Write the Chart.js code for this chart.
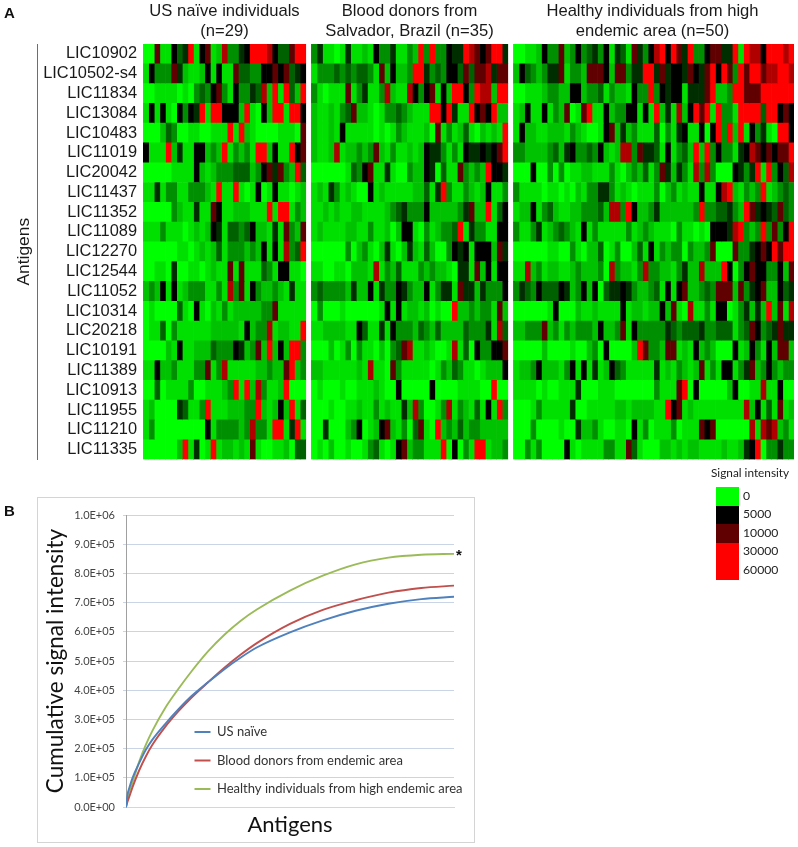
<!DOCTYPE html>
<html><head><meta charset="utf-8">
<script src="https://cdn.jsdelivr.net/npm/chart.js@4"></script>
<style>
html,body{margin:0;padding:0;background:#fff;width:798px;height:847px;overflow:hidden}
#page{position:relative;width:798px;height:847px;filter:blur(.45px)}
canvas{position:absolute;display:block}
.t{position:absolute;white-space:nowrap;font-family:"Liberation Sans",Arial,sans-serif;font-size:16.6px;line-height:20px;color:#1a1a1a;text-align:center;transform:translateX(-50%)}
.p{position:absolute;font-family:"Liberation Sans",Arial,sans-serif;font-weight:bold;font-size:15px;line-height:16px;color:#111}
.l{position:absolute;font-family:Lato,sans-serif;font-size:12.5px;line-height:16px;color:#222;white-space:nowrap}
#rule{position:absolute;left:36.6px;top:44px;width:1.2px;height:416px;background:#6e6e6e}
#frame{position:absolute;left:37px;top:497px;width:436px;height:344px;border:1.5px solid #d4d4d4}
</style></head><body><div id="page">
<div class="p" style="left:4px;top:5px">A</div>
<div class="t" style="left:224.5px;top:1px">US naïve individuals<br>(n=29)</div>
<div class="t" style="left:409.5px;top:1px">Blood donors from<br>Salvador, Brazil (n=35)</div>
<div class="t" style="left:652.5px;top:1px">Healthy individuals from high<br>endemic area (n=50)</div>
<div id="rule"></div>
<canvas id="heat" width="798" height="476" style="left:0;top:0"></canvas>
<div class="p" style="left:4px;top:503px">B</div>
<div id="legendBox"></div>
<div id="frame"></div>
<canvas id="curves" width="436" height="344" style="left:38px;top:498px"></canvas>
<div class="p" style="left:456px;top:547px;font-size:15px">*</div>
</div>
<script>
// ---------- Panel A data: one string per antigen, one digit per individual (index into cellSignal)
const antigens=["LIC10902","LIC10502-s4","LIC11834","LIC13084","LIC10483","LIC11019","LIC20042","LIC11437","LIC11352","LIC11089","LIC12270","LIC12544","LIC11052","LIC10314","LIC20218","LIC10191","LIC11389","LIC10913","LIC11955","LIC11210","LIC11335"];
const cellSignal=[0,600,1200,2200,3100,4100,5000,10000,20000,30000];
const usNaive=[
"00711645916712833569998644799",
"16333752112616117443366767456",
"00111101034367316335482919429",
"16161063659199666291062991996",
"00024300110011191921000011107",
"61119251166232913231992611967",
"00000111162123334442367573294",
"11513311333219119101601611012",
"00000321151176112221119199132",
"11131110121265144346221517327",
"00000011012124133323261618349",
"00110500110121171711143166110",
"23261612333113183716322321511",
"01000041061021312222233711111",
"01140311111122222162338122119",
"00002161122243336523729262993",
"11622311133713811111223227923",
"00401111300111239192831129000",
"12000054113911122233921262914",
"13000000000613333238331991591",
"00000029150191221217100112044"];
const bloodDonors=[
"35110151121633511329393365598767995",
"13334343443172622399534366474778577",
"31011171351138211863671629963988299",
"21121347221013343211199695119676922",
"21121611111010132111207131241021219",
"21128122323721311212655313165565679",
"00000014367115100322650411732329665",
"12153121006121111122415931132126113",
"11212112211112345333622222357229146",
"12111122113112026610312334915331166",
"00000030231025102521420036561666275",
"11001102221813241113232210551726166",
"34333325226153365322613551755253336",
"03000100000016161221201009223233172",
"11222211641151633324324222243335184",
"00020130311020347811210018140633667",
"22111111218110731111101324311012226",
"01000100111210060000060000111100900",
"00010011211312115283001381321416193",
"00500023601267213047109232423322222",
"01020010013410167233111906031991223"];
const healthyEndemic=[
"00112633723634536154175368969759336775591988699989",
"26432355713327776277355995756657657969739799788998",
"00111233226623341322163393656615557922399777999999",
"12611613270179116233661619251826979193319999499676",
"16221122213210016725231114031561160693929163510996",
"33222234256334362128837554161342929363315687676779",
"00060030301122111310232413752531838300065359193648",
"31111011010213355312101113023121161168921323912343",
"12261342112233342883962235222222393344532975654743",
"31135123432161311111312321110311010666589323937369",
"00000011003102240130024161323303223700073356769799",
"11823122112322230832213833221352282229603676633627",
"35436444652362604556532234161672234377727356722645",
"00000016000211211116122122627108113166013525292718",
"22333723132333262237163333354344453344413476345755",
"00000200001002306000029733277121623200061263162772",
"12236222136161512643111115121321271316613572363233",
"11110100111500011100000003111790600000260011811600",
"00013111115001111122122221196712111111111826141712",
"00030000100522310011061301113011176700000081878231",
"00313000061011113311741000221212211112112569033533"];
// ---------- Panel A legend
const legendTitle="Signal intensity";
const legendLevels=[0,5000,10000,30000,60000];
// ---------- Panel B data
const seriesNames=["US naïve","Blood donors from endemic area","Healthy individuals from high endemic area"];
const seriesColors=["#4f81bd","#c0504d","#9bbb59"];
const antigenRank=[0,0.5,1,2,4,6,8,12,16,20,25,30,35,40,50,60,70,80,90,100];
const usNaiveCum=[0,45000,65000,100000,150000,195000,230000,285000,335000,380000,427000,472000,512000,547000,598000,639000,672000,696000,712000,720000];
const bloodCum=[0,20000,35000,68000,125000,172000,212000,275000,328000,375000,427000,477000,522000,562000,627000,675000,708000,734000,750000,758000];
const healthyCum=[0,28000,52000,85000,155000,212000,260000,340000,405000,465000,533000,590000,638000,677000,741000,792000,831000,854000,864000,867000];
const yTicksMax=1000000, yTickStep=100000;

// colour ramp green -> black -> dark red -> red
function signalColor(v){
  if(v<=5000) return `rgb(0,${Math.round(255*(1-v/5000))},0)`;
  if(v<=10000) return `rgb(${Math.round(96*(v-5000)/5000)},0,0)`;
  if(v<=30000) return `rgb(${Math.round(96+159*(v-10000)/20000)},0,0)`;
  return 'rgb(255,0,0)';
}
const panels=[usNaive,bloodDonors,healthyEndemic];
const panelSizes=[29,35,50];

// one stacked dataset per individual; a blank column separates the panels
const heatSets=[];
panels.forEach((panel,pi)=>{
  for(let c=0;c<panelSizes[pi];c++){
    heatSets.push({data:antigens.map(()=>1),
      backgroundColor:panel.map(r=>signalColor(cellSignal[+r[c]])),borderWidth:0,
      barPercentage:1,categoryPercentage:1});
  }
  if(pi<2) heatSets.push({data:antigens.map(()=>1),backgroundColor:'rgba(0,0,0,0)',borderWidth:0,inflateAmount:0,barPercentage:1,categoryPercentage:1});
});
const totalCols=heatSets.length;
Chart.defaults.animation=false;
new Chart(document.getElementById('heat'),{type:'bar',
  data:{labels:antigens,datasets:heatSets},
  options:{responsive:false,indexAxis:'y',
    layout:{padding:{left:0,right:4,top:44,bottom:16.5}},
    plugins:{legend:{display:false},tooltip:{enabled:false}},
    scales:{
      x:{type:'linear',stacked:true,min:0,max:totalCols,display:false},
      y:{stacked:true,grid:{display:false,drawTicks:false},border:{display:false},
        ticks:{color:'#1a1a1a',font:{family:'"Liberation Sans"',size:16.4},padding:6,autoSkip:false},
        title:{display:true,text:'Antigens',color:'#1a1a1a',font:{family:'"Liberation Sans"',size:17.4},padding:{top:14,bottom:0}},
        afterFit(s){s.width=143;}}
    }}});

// heat legend
const box=document.getElementById('legendBox');
const addLabel=(txt,x,y,size)=>{const d=document.createElement('div');d.className='l';d.textContent=txt;d.style.left=x+'px';d.style.top=y+'px';if(size)d.style.fontSize=size+'px';box.appendChild(d);};
addLabel(legendTitle,711,465,11.8);
legendLevels.forEach((v,i)=>{
  const s=document.createElement('div');
  s.style.cssText=`position:absolute;left:716px;top:${487+i*18.5}px;width:23px;height:18.9px;background:${signalColor(v)}`;
  box.appendChild(s);
  addLabel(String(v),743,488+i*18.4,12.2);
});

// curves
const toXY=a=>a.map((y,i)=>({x:antigenRank[i],y}));
const curveData=[usNaiveCum,bloodCum,healthyCum];
const placeLegend={id:'placeLegend',afterLayout(chart){
  const l=chart.legend; const w=l.width,h=l.height;
  l.left=141; l.top=212; l.right=l.left+w; l.bottom=l.top+h;
}};
function sci(v){
  const [m,e]=Number(v).toExponential(1).split('e');
  const n=Math.abs(+e);
  return m+'E+'+String(n).padStart(2,'0');
}
new Chart(document.getElementById('curves'),{type:'line',
  data:{datasets:seriesNames.map((n,i)=>({label:n,data:toXY(curveData[i]),borderColor:seriesColors[i],backgroundColor:seriesColors[i],borderWidth:1.9,pointRadius:0,pointStyle:'line',cubicInterpolationMode:'monotone'}))},
  options:{responsive:false,
    layout:{padding:{left:0,right:20,top:17,bottom:0}},
    plugins:{tooltip:{enabled:false},
      legend:{position:'chartArea',align:'start',
        labels:{usePointStyle:true,pointStyleWidth:16,boxHeight:10,padding:15.5,color:'#333',font:{family:'Lato',size:13}}}},
    scales:{
      x:{type:'linear',min:0,max:100,grid:{display:false,drawTicks:false},border:{color:'#d0d7e3',width:1},
        ticks:{display:false},
        title:{display:true,text:'Antigens',color:'#111',font:{family:'Lato',size:22},padding:{top:0,bottom:4}},
        afterFit(s){s.height=35;}},
      y:{min:0,max:yTicksMax,grid:{color:'#c9d5e6',lineWidth:1,tickLength:3},border:{color:'#a0a0a0',width:1},
        ticks:{stepSize:yTickStep,callback:v=>v===0?'0.0E+00':sci(v),color:'#444',padding:8,font:{family:'Lato',size:11}},
        title:{display:true,text:'Cumulative signal intensity',color:'#111',font:{family:'Lato',size:22.5},padding:{top:4,bottom:0}},
        afterFit(s){s.width=88;}}
    }},
  plugins:[placeLegend]});
</script></body></html>
